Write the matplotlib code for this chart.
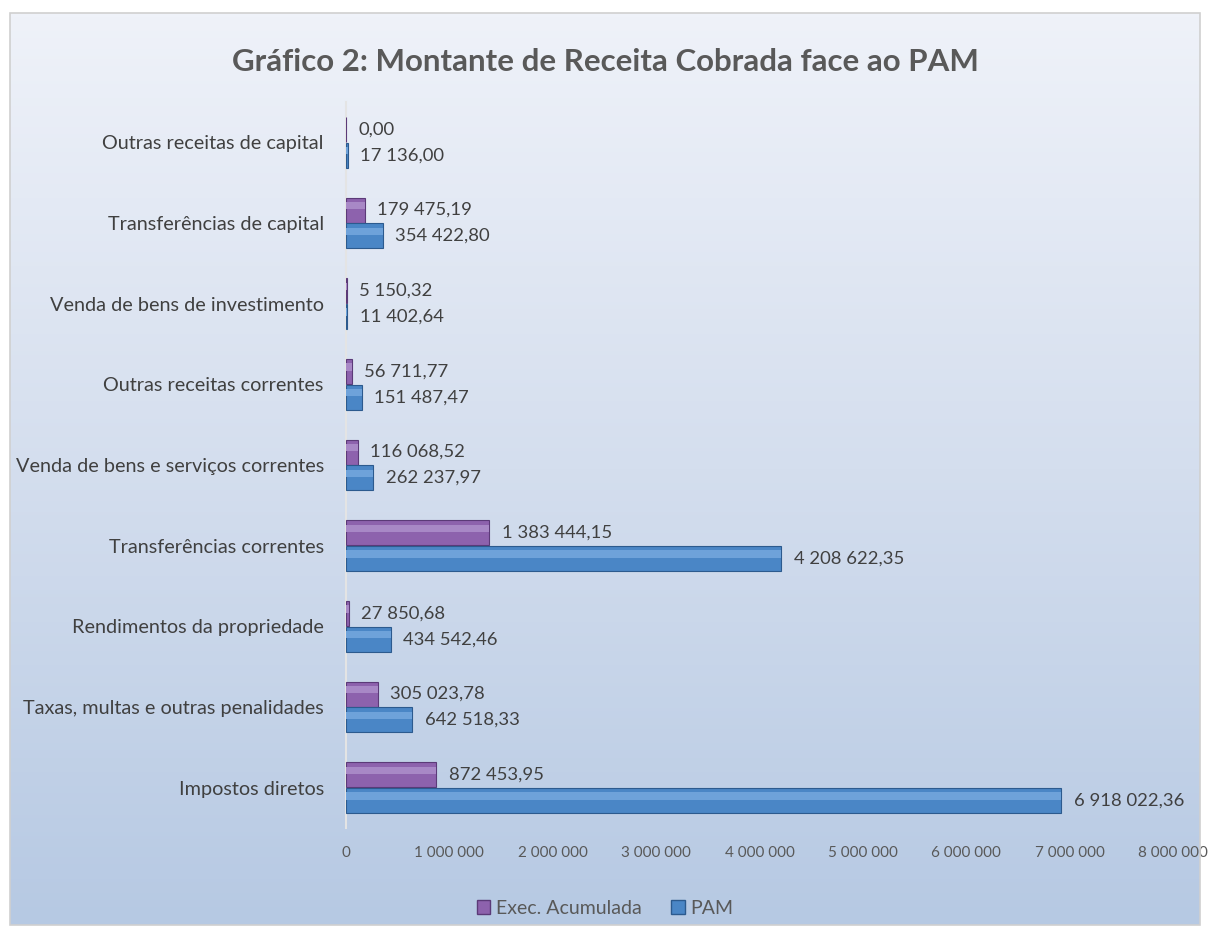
import numpy as np
import matplotlib
matplotlib.use("Agg")
import matplotlib.pyplot as plt
from matplotlib.colors import LinearSegmentedColormap
from matplotlib.patches import Rectangle, Patch

plt.rcParams['font.family'] = ['Lato', 'DejaVu Sans']

categories = [
    "Impostos diretos",
    "Taxas, multas e outras penalidades",
    "Rendimentos da propriedade",
    "Transferências correntes",
    "Venda de bens e serviços correntes",
    "Outras receitas correntes",
    "Venda de bens de investimento",
    "Transferências de capital",
    "Outras receitas de capital",
]
exec_acumulada = [872453.95, 305023.78, 27850.68, 1383444.15, 116068.52,
                  56711.77, 5150.32, 179475.19, 0.00]
pam = [6918022.36, 642518.33, 434542.46, 4208622.35, 262237.97,
       151487.47, 11402.64, 354422.80, 17136.00]
x_ticks = [0, 1000000, 2000000, 3000000, 4000000, 5000000, 6000000, 7000000, 8000000]
title = "Gráfico 2: Montante de Receita Cobrada face ao PAM"
series_names = ["Exec. Acumulada", "PAM"]

W, H = 1209, 936
fig = plt.figure(figsize=(W / 100, H / 100), dpi=100)
fig.patch.set_facecolor("white")

# gradient background frame
bx0, by0, bx1, by1 = 10, 13, 1200, 925
bg = fig.add_axes([bx0 / W, 1 - by1 / H, (bx1 - bx0) / W, (by1 - by0) / H])
cmap = LinearSegmentedColormap.from_list("bg", ["#eff2f9", "#d4deee", "#b6c9e3"])
grad = np.linspace(0, 1, 256).reshape(-1, 1)
bg.imshow(grad, aspect="auto", cmap=cmap, extent=[0, 1, 0, 1], origin="upper")
bg.set_xlim(0, 1); bg.set_ylim(0, 1)
bg.axis("off")
fig.patches.append(Rectangle((bx0 / W, 1 - by1 / H), (bx1 - bx0) / W, (by1 - by0) / H,
                             transform=fig.transFigure, fill=False,
                             edgecolor="#d0d0d0", linewidth=1.2, zorder=5))

ax = fig.add_axes([346 / W, 1 - 828 / H, 827 / W, 726 / H])
ax.set_facecolor("none")
y = np.arange(len(categories))
bh = 0.31
off = 0.16
purple, purple_e = "#8d62ad", "#5b3a78"
blue, blue_e = "#4a86c6", "#2c5a8e"

ax.barh(y + off, exec_acumulada, height=bh, color=purple, edgecolor=purple_e, linewidth=0.8, zorder=3)
ax.barh(y - off, pam, height=bh, color=blue, edgecolor=blue_e, linewidth=0.8, zorder=3)
# highlight bands for bevel look
ax.barh(y + off + bh * 0.18, exec_acumulada, height=bh * 0.3, color="#a888c6", linewidth=0, zorder=4)
ax.barh(y - off + bh * 0.18, pam, height=bh * 0.3, color="#6ea2da", linewidth=0, zorder=4)

def fmt(v):
    return f"{v:,.2f}".replace(",", " ").replace(".", ",")

for vals, dy in ((exec_acumulada, off), (pam, -off)):
    for yi, v in zip(y, vals):
        ax.annotate(fmt(v), (v, yi + dy), xytext=(9, 0), textcoords="offset points",
                    va="center", ha="left", fontsize=13.3, color="#404040", zorder=6)

ax.set_xlim(0, 8000000)
ax.set_ylim(-0.5, len(categories) - 0.5)
ax.set_xticks(x_ticks)
ax.set_xticklabels([f"{t:,}".replace(",", " ") for t in x_ticks], fontsize=11, color="#595959")
ax.set_yticks(y)
ax.set_yticklabels(categories, fontsize=14.3, color="#404040")
ax.tick_params(axis="both", length=0)
ax.tick_params(axis="x", pad=13)
ax.tick_params(axis="y", pad=16)
for s in ("top", "right", "bottom"):
    ax.spines[s].set_visible(False)
ax.spines["left"].set_color("#e4e4e4")
ax.spines["left"].set_linewidth(1.5)

fig.text(605 / W, 1 - 62 / H, title, ha="center", va="center", fontsize=22.5,
         fontweight="bold", color="#595959")

handles = [Patch(facecolor=purple, edgecolor=purple_e), Patch(facecolor=blue, edgecolor=blue_e)]
fig.legend(handles, series_names, loc="center", bbox_to_anchor=(605 / W, 1 - 908 / H),
           ncol=2, frameon=False, fontsize=14, labelcolor="#595959",
           handlelength=0.7, handleheight=0.7, handletextpad=0.3, columnspacing=1.5)

fig.savefig("out.png", dpi=100)
